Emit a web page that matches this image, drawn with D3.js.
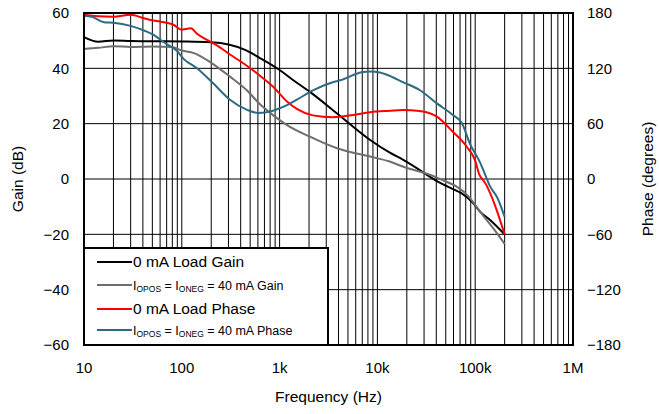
<!DOCTYPE html>
<html>
<head>
<meta charset="utf-8">
<script src="https://cdn.jsdelivr.net/npm/d3@7"></script>
<style>
  body { margin: 0; background: #fff; }
  text { font-family: Arial, "Liberation Sans", sans-serif; fill: #000; }
</style>
</head>
<body>
<div id="chart"></div>
<script>
// frequencies (Hz) and values
const blackFreq = [10, 14, 20, 30, 50, 100, 200, 300, 450, 630, 1000, 1370, 2040, 3870, 8440, 13400, 18200, 40600, 95700, 112000, 142000, 200000];
const blackGain = [51.3, 49.6, 50.1, 49.9, 49.8, 49.7, 49.4, 48.6, 46.6, 43.7, 39.4, 35.8, 31.5, 23.7, 14.1, 9.5, 7, -0.8, -8.8, -11.8, -14.8, -20];

const grayFreq = [10, 14, 20, 30, 50, 80, 96, 133, 200, 311, 465, 630, 795, 1190, 2040, 3870, 8440, 13400, 18200, 40600, 88500, 112000, 152000, 200000];
const grayGain = [47.0, 47.4, 48.0, 47.7, 47.9, 47.7, 46.6, 45.5, 42, 37, 32, 27, 24, 19.5, 15.3, 11.1, 8.1, 6.3, 4.5, 0.5, -6.9, -11.8, -17.7, -23.5];

const redFreq = [10, 14, 20, 30, 41, 48, 66, 83, 98, 124, 143, 181, 229, 311, 433, 630, 860, 1190, 1500, 2190, 3500, 5630, 8440, 13400, 18200, 27000, 40600, 59000, 82000, 100000, 110000, 120000, 126000, 152000, 200000];
const redPhase = [178, 176.5, 176, 178, 174.3, 172.5, 170, 167, 162, 163.4, 157.5, 150.8, 145, 135, 125, 112, 100, 84, 76, 69, 67, 69.4, 72.5, 74, 74.8, 73.8, 67.6, 51.3, 35, 20, 5, -1, -4, -22.8, -60];

const blueFreq = [10, 12, 16, 20, 30, 41, 52, 66, 89, 105, 143, 208, 311, 465, 601, 857, 1190, 1500, 2190, 3500, 4150, 7100, 8440, 10600, 12500, 18200, 27000, 40600, 59000, 73000, 88500, 112000, 126000, 142000, 168000, 200000];
const bluePhase = [177, 176, 170, 169.5, 166, 161, 156, 148, 139, 130, 120, 104, 86, 75, 71.6, 74, 80, 86, 96, 105, 107, 116, 116.5, 115.5, 113, 105, 96.5, 82, 69.4, 60.7, 38, 18, 5, -8, -20, -41];

const gainTicks = [-60, -40, -20, 0, 20, 40, 60];
const phaseTicks = [-180, -120, -60, 0, 60, 120, 180];
const freqTicks = [10, 100, 1000, 10000, 100000, 1000000];
const freqLabels = ["10", "100", "1k", "10k", "100k", "1M"];

const W = 659, H = 414;
const plot = { left: 84, right: 573, top: 13, bottom: 345 };

const svg = d3.select("#chart").append("svg")
    .attr("width", W)
    .attr("height", H);

const x = d3.scaleLog().domain([10, 1e6]).range([plot.left, plot.right]);
const yG = d3.scaleLinear().domain([-60, 60]).range([plot.bottom, plot.top]);
const yP = d3.scaleLinear().domain([-180, 180]).range([plot.bottom, plot.top]);

const fmt = v => v < 0 ? "\u2212" + Math.abs(v) : String(v);

// grid
const minor = [];
for (let d = 10; d < 1e6; d *= 10) {
    for (let k = 1; k < 10; k++) minor.push(d * k);
}
const grid = svg.append("g");
grid.selectAll("line.v")
    .data(minor)
    .join("line")
    .attr("x1", d => x(d)).attr("x2", d => x(d))
    .attr("y1", plot.top).attr("y2", plot.bottom)
    .attr("stroke", "#000")
    .attr("stroke-width", 1);
grid.selectAll("line.h")
    .data(gainTicks)
    .join("line")
    .attr("x1", plot.left).attr("x2", plot.right)
    .attr("y1", d => yG(d)).attr("y2", d => yG(d))
    .attr("stroke", "#000")
    .attr("stroke-width", 1);

// curves
const series = [
    { f: blackFreq, v: blackGain, y: yG, color: "#000000" },
    { f: grayFreq, v: grayGain, y: yG, color: "#6e6e6e" },
    { f: redFreq, v: redPhase, y: yP, color: "#ff0000" },
    { f: blueFreq, v: bluePhase, y: yP, color: "#2d6a84" }
];
const curves = svg.append("g");
series.forEach(s => {
    const pts = s.f.map((f, i) => [f, s.v[i]]);
    curves.append("path")
        .datum(pts)
        .attr("fill", "none")
        .attr("stroke", s.color)
        .attr("stroke-width", 2)
        .attr("stroke-linejoin", "round")
        .attr("d", d3.line()
            .x(d => x(d[0]))
            .y(d => s.y(d[1]))
            .curve(d3.curveMonotoneX));
});

// legend
const lg = svg.append("g");
lg.append("rect")
    .attr("x", plot.left).attr("y", 248)
    .attr("width", 244).attr("height", plot.bottom - 248)
    .attr("fill", "#fff")
    .attr("stroke", "#000")
    .attr("stroke-width", 2);

// each part: [text, font size, dy]
const big = 15.5, mid = 12.5, sub = 8.5;
const legendRows = [
    { y: 262, color: "#000000", parts: [["0 mA Load Gain", big, 0]] },
    { y: 285, color: "#6e6e6e", parts: [["I", mid, 0], ["OPOS", sub, 2], [" = I", mid, -2], ["ONEG", sub, 2], [" = 40 mA Gain", mid, -2]] },
    { y: 309, color: "#ff0000", parts: [["0 mA Load Phase", big, 0]] },
    { y: 330, color: "#2d6a84", parts: [["I", mid, 0], ["OPOS", sub, 2], [" = I", mid, -2], ["ONEG", sub, 2], [" = 40 mA Phase", mid, -2]] }
];
legendRows.forEach(r => {
    lg.append("line")
        .attr("x1", 97).attr("x2", 132)
        .attr("y1", r.y).attr("y2", r.y)
        .attr("stroke", r.color)
        .attr("stroke-width", 2);
    const t = lg.append("text")
        .attr("x", 133)
        .attr("y", r.y + 5);
    r.parts.forEach(p => {
        t.append("tspan")
            .attr("font-size", p[1])
            .attr("dy", p[2] || null)
            .text(p[0]);
    });
});

// frame
svg.append("rect")
    .attr("x", plot.left).attr("y", plot.top)
    .attr("width", plot.right - plot.left)
    .attr("height", plot.bottom - plot.top)
    .attr("fill", "none")
    .attr("stroke", "#000")
    .attr("stroke-width", 2);

// axis labels
svg.append("g").selectAll("text")
    .data(gainTicks)
    .join("text")
    .attr("x", 69)
    .attr("y", d => yG(d))
    .attr("dy", "0.35em")
    .attr("text-anchor", "end")
    .attr("font-size", 15)
    .text(fmt);

svg.append("g").selectAll("text")
    .data(phaseTicks)
    .join("text")
    .attr("x", 587)
    .attr("y", d => yP(d))
    .attr("dy", "0.35em")
    .attr("text-anchor", "start")
    .attr("font-size", 15)
    .text(fmt);

svg.append("g").selectAll("text")
    .data(freqTicks)
    .join("text")
    .attr("x", d => x(d))
    .attr("y", 368)
    .attr("dy", "0.35em")
    .attr("text-anchor", "middle")
    .attr("font-size", 15)
    .text((d, i) => freqLabels[i]);

svg.append("text")
    .attr("x", (plot.left + plot.right) / 2)
    .attr("y", 397)
    .attr("dy", "0.35em")
    .attr("text-anchor", "middle")
    .attr("font-size", 15.5)
    .text("Frequency (Hz)");

svg.append("text")
    .attr("transform", `translate(18,${(plot.top + plot.bottom) / 2}) rotate(-90)`)
    .attr("dy", "0.35em")
    .attr("text-anchor", "middle")
    .attr("font-size", 15.5)
    .text("Gain (dB)");

svg.append("text")
    .attr("transform", `translate(648,${(plot.top + plot.bottom) / 2}) rotate(-90)`)
    .attr("dy", "0.35em")
    .attr("text-anchor", "middle")
    .attr("font-size", 15.5)
    .text("Phase (degrees)");
</script>
</body>
</html>
